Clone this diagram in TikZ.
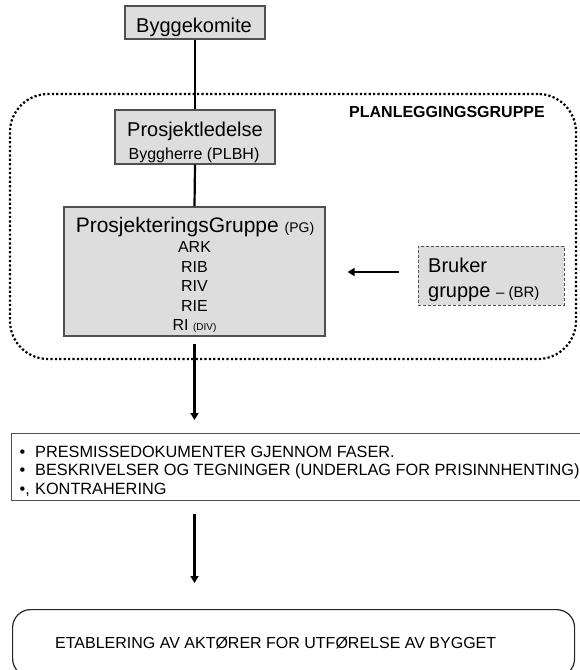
\documentclass[tikz,border=0pt]{standalone}
\usepackage{fontspec}
\setmainfont{Liberation Sans}
\usetikzlibrary{arrows.meta}
\definecolor{boxfill}{RGB}{221,221,221}
\definecolor{boxline}{RGB}{80,80,80}
\newcommand\fsz[2]{\fontsize{#1}{#2}\selectfont}
\begin{document}
\begin{tikzpicture}[x=1pt,y=-1pt,
  graybox/.style={draw=boxline, fill=boxfill, line width=1.2pt, inner sep=0pt},
  brbox/.style={draw=boxline, fill=boxfill, line width=1pt, dash pattern=on 3pt off 2pt, inner sep=0pt},
  lbl/.style={inner sep=0pt, anchor=base},
  lblw/.style={inner sep=0pt, anchor=base west},
  conn/.style={line width=2.2pt},
  arr/.style={line width=2.2pt, -{Triangle[length=7pt,width=8pt]}},
  planbox/.style={draw=black, line width=2.2pt, dash pattern=on 2.2pt off 2.2pt, rounded corners=38pt},
  listbox/.style={draw=boxline, line width=1.3pt, inner sep=0pt},
  endbox/.style={draw=black!85, line width=1.2pt, rounded corners=18pt, inner sep=0pt},
]
\clip (0,0) rectangle (580,670);
\fill[white] (0,0) rectangle (580,670);

% planning group frame
\node[planbox, minimum width=566pt, minimum height=265pt] (plan) at (293,226.5) {};
\node[lblw, font=\bfseries\fsz{16}{18}] (plt) at (349,117.5) {PLANLEGGINGSGRUPPE};

% Byggekomite
\node[graybox, minimum width=140pt, minimum height=33pt] (bk) at (195,22.5) {};
\node[lbl, font=\fsz{20}{24}] (bkt) at (194,32) {Byggekomite};

% Prosjektledelse
\node[graybox, minimum width=160pt, minimum height=54pt] (pl) at (195,137) {};
\node[lbl, font=\fsz{20}{24}] (plt1) at (195,136.5) {Prosjektledelse};
\node[lbl, font=\fsz{16}{18}] (plt2) at (194,159) {Byggherre (PLBH)};

% ProsjekteringsGruppe
\node[graybox, minimum width=261pt, minimum height=129pt] (pg) at (194.5,271.5) {};
\node[lbl, font=\fsz{21}{24}] (pgt) at (195,232) {ProsjekteringsGruppe {\fsz{14}{14}(PG)}};
\node[lbl, font=\fsz{16}{18}] (pga) at (194.5,252) {ARK};
\node[lbl, font=\fsz{16}{18}] (pgb) at (194.5,272) {RIB};
\node[lbl, font=\fsz{16}{18}] (pgc) at (194.5,291) {RIV};
\node[lbl, font=\fsz{16}{18}] (pgd) at (194.5,311) {RIE};
\node[lbl, font=\fsz{16}{18}] (pge) at (194.5,330) {RI {\fsz{10}{10}(DIV)}};

% Brukergruppe
\node[brbox, minimum width=146pt, minimum height=59pt] (br) at (491,275.5) {};
\node[lblw, font=\fsz{20}{24}] (brt1) at (428,272) {Bruker};
\node[lblw, font=\fsz{20}{24}] (brt2) at (428,297) {gruppe {\fsz{15}{15}– (BR)}};

% document list
\node[listbox, anchor=north west, minimum width=600pt, minimum height=67pt] (doc) at (11,433) {};
\node[lblw, font=\fsz{16.3}{18}] (d1) at (19.5,457) {\makebox[15.5pt][l]{\textbullet}PRESMISSEDOKUMENTER GJENNOM FASER.};
\node[lblw, font=\fsz{16.3}{18}] (d2) at (19.5,475.5) {\makebox[15.5pt][l]{\textbullet}BESKRIVELSER OG TEGNINGER (UNDERLAG FOR PRISINNHENTING)};
\node[lblw, font=\fsz{16.3}{18}] (d3) at (19.5,494) {\makebox[15.5pt][l]{\textbullet, }KONTRAHERING};

% final box
\node[endbox, anchor=north west, minimum width=562pt, minimum height=67pt] (etab) at (12,609) {};
\node[lblw, font=\fsz{16}{18}] (etabt) at (55,648) {ETABLERING AV AKTØRER FOR UTFØRELSE AV BYGGET};

% connectors
\draw[conn] (bk.south) -- (pl.north);
\draw[conn] (pl.south) -- (pg.north);
\draw[arr, shorten <=7pt, shorten >=13pt] (pg.south) -- (pg.south |- doc.north);
\draw[arr, shorten <=13pt, shorten >=26pt] (doc.south -| pg.south) -- (pg.south |- etab.north);
\coordinate (bra) at ([yshift=3.5pt]br.west);
\draw[arr, shorten <=19pt, shorten >=22pt] (bra) -- (pg.east |- bra);
\end{tikzpicture}
\end{document}
